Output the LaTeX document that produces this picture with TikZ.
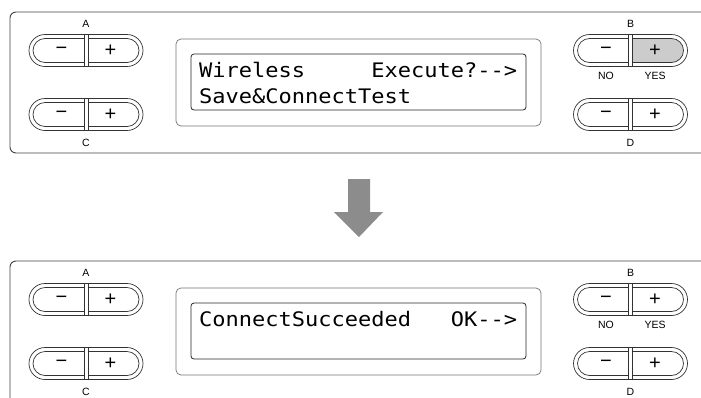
\documentclass[tikz,border=0pt]{standalone}
\usepackage{fontspec}
\setmainfont{Liberation Sans}
\newfontfamily\lcdfont{DejaVu Sans Mono}[FakeStretch=1.1]
\usetikzlibrary{positioning}

% one pair of -/+ keys, centred at (#2,#3); #4 fills the + half
\newcommand{\keypair}[4]{%
  \begin{scope}[shift={(#2,#3)}]
    \begin{scope}
      \clip[rounded corners=12pt] (-53,-12) rectangle (53,12);
      \fill[#4] (2,-12) rectangle (53,12);
    \end{scope}
    \draw[keyline, rounded corners=16pt] (-57,-16) rectangle (57,16);
    \draw[keyline, rounded corners=12pt] (-53,-12) rectangle (53,12);
    \fill[white] (-2,-12.6) rectangle (2,12.6);
    \draw[keyline] (-2,-16) -- (-2,16) (2,-16) -- (2,16);
    \node[keysym] (#1-minus) at (-24.5,0) {−};
    \node[keysym] (#1-plus) at (24.5,0) {+};
  \end{scope}}

\begin{document}
\begin{tikzpicture}[x=1pt, y=-1pt,
    panel/.style={draw=black!75, line width=0.9pt, rounded corners=6pt},
    keyline/.style={draw=black!80, line width=0.7pt},
    keysym/.style={inner sep=0pt, font=\fontsize{20}{20}\selectfont},
    keylabel/.style={inner sep=0pt, font=\fontsize{10.5}{10.5}\selectfont},
    lcdframe/.style={draw=black!55, line width=0.7pt, rounded corners=5pt},
    lcd/.style={draw=black!85, line width=0.8pt, rounded corners=3pt},
    lcdtext/.style={inner sep=0pt, anchor=base west, font=\lcdfont\fontsize{20}{20}\selectfont},
]
\useasboundingbox (0,0) rectangle (701,397);

% upper panel: before
\draw[panel] (702,12) -- (10,12) -- (10,153) -- (702,153);
\keypair{ta}{86}{50.5}{white}
\keypair{tc}{86}{114.5}{white}
\keypair{tb}{630.5}{50.5}{black!20}
\keypair{td}{630.5}{114.5}{white}
\node[keylabel] (tlblA) at (86,24) {A};
\node[keylabel] (tlblC) at (86,143) {C};
\node[keylabel] (tlblB) at (630.5,23.5) {B};
\node[keylabel] (tlblD) at (630.5,143) {D};
\node[keylabel] (tno) at (606,75.5) {NO};
\node[keylabel] (tyes) at (655,75.5) {YES};
\draw[lcdframe] (176,39) rectangle (541,126);
\draw[lcd] (191,54) rectangle (526,110);
\node[lcdtext] (tline1) at (199,77) {Wireless\ \ \ \ \ Execute?-{}-{}>};
\node[lcdtext] (tline2) at (199,103.5) {Save\&ConnectTest};

% arrow between the two states
\fill[black!45] (348,179) -- (370,179) -- (370,212) -- (383,212) -- (359,237)
    -- (334,212) -- (348,212) -- cycle;

% lower panel: after
\begin{scope}[shift={(0,249)}]
\draw[panel] (702,12) -- (10,12) -- (10,160);
\keypair{ba}{86}{50.5}{white}
\keypair{bc}{86}{114.5}{white}
\keypair{bb}{630.5}{50.5}{white}
\keypair{bd}{630.5}{114.5}{white}
\node[keylabel] (blblA) at (86,24) {A};
\node[keylabel] (blblC) at (86,143) {C};
\node[keylabel] (blblB) at (630.5,23.5) {B};
\node[keylabel] (blblD) at (630.5,143) {D};
\node[keylabel] (bno) at (606,75.5) {NO};
\node[keylabel] (byes) at (655,75.5) {YES};
\draw[lcdframe] (176,39) rectangle (541,126);
\draw[lcd] (191,54) rectangle (526,110);
\node[lcdtext] (bline1) at (199,77) {ConnectSucceeded\ \ \ OK-{}-{}>};
\end{scope}
\end{tikzpicture}
\end{document}
